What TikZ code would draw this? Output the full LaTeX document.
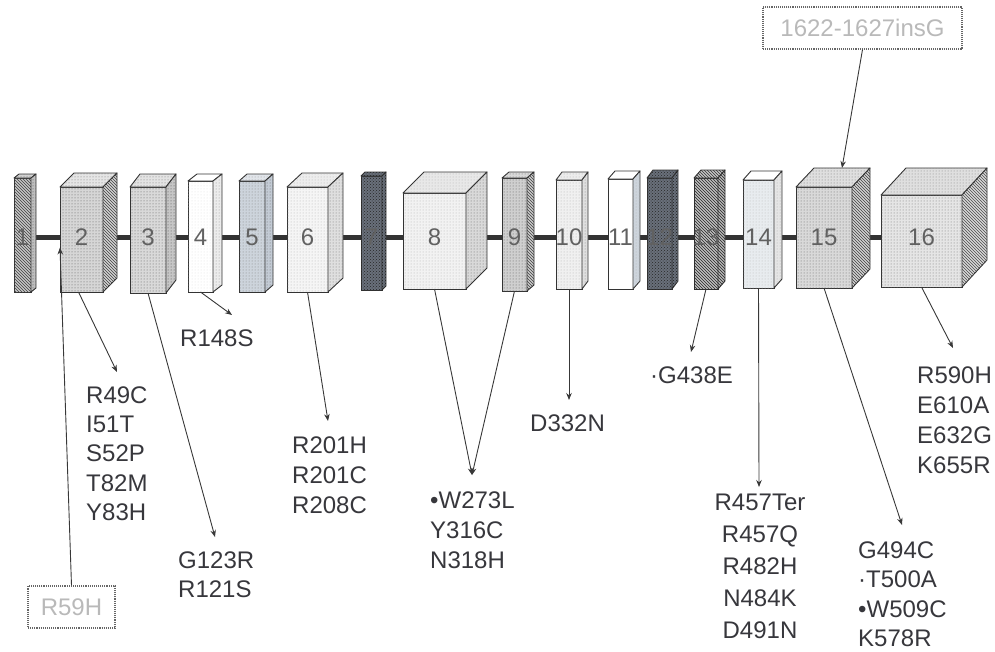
\documentclass[tikz,border=0pt]{standalone}
\usepackage{fontspec}
\setmainfont{Liberation Sans}
\usetikzlibrary{patterns,arrows.meta,calc,backgrounds}
\definecolor{bluegray}{RGB}{205,212,220}
\definecolor{slate}{RGB}{105,112,122}
\definecolor{inkc}{RGB}{55,55,60}
\newcommand{\ExonBox}[9]{%
  \node[exonfront,#7,minimum width={(#4-#2)*1pt},minimum height={(#5-#3)*1pt}] (e#1) at ({(#2+#4)/2},{(#3+#5)/2}) {};
  \path[face,#8] (e#1.north west) -- ++(#6) -- ($(e#1.north east)+(#6)$) -- (e#1.north east) -- cycle;
  \path[face,#9] (e#1.north east) -- ++(#6) -- ($(e#1.south east)+(#6)$) -- (e#1.south east) -- cycle;
  \node[exlabel] (l#1) at (e#1 |- lineY) {#1};
}
\tikzset{
  exonfront/.style={draw=black!80, line width=0.9pt, inner sep=0pt, outer sep=0pt},
  face/.style={draw=black!80, line width=0.9pt, line join=round},
  stip/.style 2 args={fill=#1, postaction={pattern=dots, pattern color=#2}},
  xdots/.style 2 args={fill=#1, postaction={pattern=crosshatch dots, pattern color=#2}},
  hatch/.style 2 args={fill=#1, postaction={pattern=north west lines, pattern color=#2}},
  plain/.style={fill=#1},
  exlabel/.style={font=\fontsize{24}{28}\selectfont, text=black!62, inner sep=0pt},
  arr/.style={draw=black!78, line width=0.9pt, -{Stealth[length=7pt,width=5.5pt]}},
  mut/.style={font=\fontsize{24}{#1}\selectfont, text=inkc, inner sep=0pt, align=left},
  mut/.default=30,
  intron/.style={line width=5pt, draw=black!80},
  lbl/.style={draw=black!60, densely dotted, line width=1.1pt, font=\fontsize{24}{28}\selectfont, text=gray!55, inner sep=0pt},
}
\begin{document}
\begin{tikzpicture}[x=1pt,y=-1pt]
\useasboundingbox (0,0) rectangle (995,651);
\coordinate (lineY) at (0,237);

\ExonBox{1}{14}{178}{31}{292}{5,-4}{hatch={gray!45}{black!75}}{stip={gray!35}{black!60}}{stip={gray!50}{black!70}}
\ExonBox{2}{60}{187}{103}{292}{14,-14}{stip={gray!32}{black!65}}{stip={gray!20}{black!55}}{hatch={gray!35}{black!75}}
\ExonBox{3}{130}{187}{166}{293}{10,-13}{stip={gray!30}{black!65}}{stip={gray!22}{black!55}}{stip={gray!45}{black!70}}
\ExonBox{4}{188}{181}{213}{292}{9,-7}{stip={white}{gray!25}}{plain=white}{stip={gray!15}{black!45}}
\ExonBox{5}{239}{181}{265}{292}{8,-7}{stip={bluegray}{black!50}}{stip={bluegray!60}{black!40}}{stip={bluegray!120}{black!60}}
\ExonBox{6}{287}{187}{328}{292}{15,-14}{stip={gray!8}{gray!60}}{stip={gray!14}{gray!60}}{stip={gray!25}{black!55}}
\ExonBox{7}{361}{176}{382}{290}{4,-4}{xdots={slate}{black!85}}{xdots={slate}{black!85}}{xdots={slate}{black!90}}
\ExonBox{8}{403}{193}{466}{289}{21,-21}{stip={gray!10}{gray!60}}{stip={gray!18}{gray!60}}{stip={gray!30}{black!60}}
\ExonBox{9}{502}{178}{527}{291}{7,-6}{stip={gray!38}{black!65}}{stip={gray!30}{black!55}}{hatch={gray!40}{black!75}}
\ExonBox{10}{556}{180}{582}{289}{6,-8}{stip={gray!12}{gray!60}}{stip={gray!15}{gray!60}}{stip={gray!25}{black!50}}
\ExonBox{11}{608}{179}{633}{289}{7,-8}{plain=white}{plain=white}{stip={bluegray}{gray!60}}
\ExonBox{12}{647}{178}{672}{289}{6,-8}{xdots={slate}{black!85}}{xdots={slate}{black!85}}{xdots={slate}{black!90}}
\ExonBox{13}{694}{178}{718}{289}{7,-8}{hatch={gray!50}{black!85}}{hatch={gray!45}{black!80}}{hatch={gray!55}{black!85}}
\ExonBox{14}{743}{180}{774}{288}{8,-9}{stip={bluegray!45}{gray!55}}{plain=white}{stip={gray!20}{gray!65}}
\ExonBox{15}{796}{187}{852}{288}{18,-19}{stip={gray!30}{black!60}}{stip={gray!25}{black!55}}{hatch={gray!35}{black!75}}
\ExonBox{16}{881}{195}{962}{287}{25,-27}{stip={gray!20}{black!55}}{stip={gray!25}{black!50}}{hatch={gray!30}{black!70}}

\begin{scope}[on background layer]
  \draw[intron] (e1 |- lineY) -- (e16 |- lineY);
\end{scope}

% boxed labels
\node[lbl, minimum width=87pt, minimum height=42pt] (rb) at (71.5,607) {R59H};
\node[lbl, minimum width=199pt, minimum height=42pt] (ib) at (862.5,28) {1622-1627insG};
\draw[arr] (rb.north) -- ([yshift=-8pt]e2.west);
\draw[arr] (ib.south) -- ([shift={(46,-19)}]e15.north west);

% mutation lists
\node[mut=29.3, anchor=north west] (m2) at (86,386.4) {R49C\\I51T\\S52P\\T82M\\Y83H};
\node[mut=29, anchor=north west] (m3) at (178,551.4) {G123R\\R121S};
\node[mut, anchor=north west] (m4) at (180,329.4) {R148S};
\node[mut=30, anchor=north west] (m6) at (292,436.4) {R201H\\R201C\\R208C};
\node[mut=30, anchor=north west] (m8) at (430,491.4) {•W273L\\Y316C\\N318H};
\node[mut, anchor=north west] (m10) at (530,414.4) {D332N};
\node[mut, anchor=north west] (m13) at (650,366.4) {·G438E};
\node[mut=32, align=center, anchor=north] (m14) at (760,493.4) {R457Ter\\R457Q\\R482H\\N484K\\D491N};
\node[mut=29.5, anchor=north west] (m15) at (858,541.4) {G494C\\·T500A\\•W509C\\K578R};
\node[mut=30, anchor=north west] (m16) at (917,366.4) {R590H\\E610A\\E632G\\K655R};

% arrow tips
\coordinate (t2) at (117,372);
\coordinate (t3) at (215,537);
\coordinate (t4) at (232,315);
\coordinate (t6) at (328,421);
\coordinate (t8) at (472,475);
\coordinate (t10) at (569,400);
\coordinate (t13) at (691,352);
\coordinate (t14) at (759,487);
\coordinate (t15) at (902,525);
\coordinate (t16) at (953,348);

\draw[arr] ([xshift=-3pt]e2.south) -- (t2);
\draw[arr] (e3.south) -- (t3);
\draw[arr] (e4.south) -- (t4);
\draw[arr] (e6.south) -- (t6);
\draw[arr] (e8.south) -- (t8);
\draw[arr] (e9.south) -- (t8);
\draw[arr] (e10.south) -- (t10);
\draw[arr] (e13.south) -- (t13);
\draw[arr] (e14.south) -- (t14);
\draw[arr] (e15.south) -- (t15);
\draw[arr] (e16.south) -- (t16);
\end{tikzpicture}
\end{document}
